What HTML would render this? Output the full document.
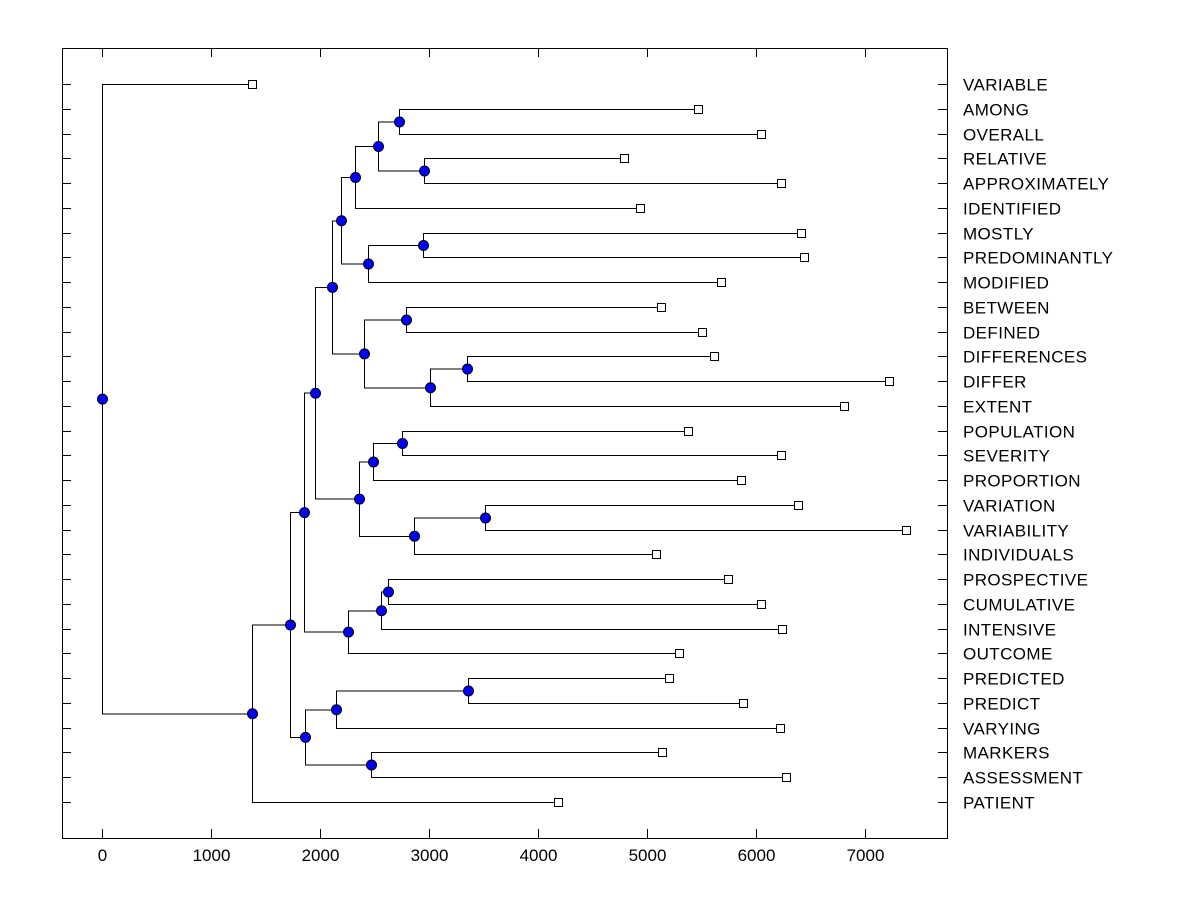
<!DOCTYPE html>
<html><head><meta charset="utf-8"><style>
body{margin:0;background:#fff;}
svg text{font-family:"Liberation Sans",Arial,sans-serif;}
</style></head><body>
<svg id="chart" width="1200" height="900" xmlns="http://www.w3.org/2000/svg" shape-rendering="crispEdges"></svg>
<script>
const leafLabels=["VARIABLE","AMONG","OVERALL","RELATIVE","APPROXIMATELY","IDENTIFIED","MOSTLY","PREDOMINANTLY","MODIFIED","BETWEEN","DEFINED","DIFFERENCES","DIFFER","EXTENT","POPULATION","SEVERITY","PROPORTION","VARIATION","VARIABILITY","INDIVIDUALS","PROSPECTIVE","CUMULATIVE","INTENSIVE","OUTCOME","PREDICTED","PREDICT","VARYING","MARKERS","ASSESSMENT","PATIENT"];
const leafValues=[1376,5468,6046,4789,6229,4936,6413,6440,5679,5128,5505,5615,7220,6807,5376,6229,5862,6385,7376,5083,5743,6046,6239,5294,5202,5881,6220,5138,6275,4183];
const mergeNames=['N','O','M','K','P','L','I','Q','S','R','J','G','V','T','W','U','H','E','Y','X','F','C','BB','Z','AA','D','B','A','ROOT'];
const mergeLeft=['AMONG','RELATIVE','N','M','MOSTLY','P','K','BETWEEN','DIFFERENCES','S','Q','I','POPULATION','V','VARIATION','W','T','G','PROSPECTIVE','Y','X','E','PREDICTED','BB','MARKERS','Z','C','B','VARIABLE'];
const mergeRight=['OVERALL','APPROXIMATELY','O','IDENTIFIED','PREDOMINANTLY','MODIFIED','L','DEFINED','DIFFER','EXTENT','R','J','SEVERITY','PROPORTION','VARIABILITY','INDIVIDUALS','U','H','CUMULATIVE','INTENSIVE','OUTCOME','F','PREDICT','VARYING','ASSESSMENT','AA','D','PATIENT','A'];
const mergeHeight=[2725,2954,2532,2321,2945,2440,2193,2789,3349,3009,2404,2110,2752,2486,3514,2862,2358,1954,2624,2560,2257,1853,3358,2147,2468,1862,1725,1376,0];
const xTicks=[0,1000,2000,3000,4000,5000,6000,7000];
</script>
<script>
const svg=document.getElementById('chart');
const NS='http://www.w3.org/2000/svg';
const X0=62,X1=947,Y0=48,Y1=838;
const xs=v=>Math.round(102+v*0.109)+0.5;
const ys=i=>Math.round(84+i*(802-84)/29)+0.5;
function mk(t,a){const e=document.createElementNS(NS,t);for(const k in a)e.setAttribute(k,a[k]);svg.appendChild(e);return e;}
const frame=mk('rect',{x:X0+0.5,y:Y0+0.5,width:X1-X0,height:Y1-Y0,fill:'none',stroke:'#000'});


xTicks.forEach(t=>{
 const x=xs(t);
 const a=mk('line',{x1:x,x2:x,y1:Y1,y2:Y1-9,stroke:'#000'});
 
 
 const b=mk('line',{x1:x,x2:x,y1:Y0,y2:Y0+9,stroke:'#000'});
 
 
 const tx=mk('text',{x:x,y:861,'text-anchor':'middle','font-size':'17'});
 tx.textContent=t;
 
 
});
const pos={};
leafLabels.forEach((n,i)=>{
 const y=ys(i);
 pos[n]={x:xs(leafValues[i]),y:y};
 const a=mk('line',{x1:X0,x2:X0+9,y1:y,y2:y,stroke:'#000'});
 
 
 const b=mk('line',{x1:X1,x2:X1-9,y1:y,y2:y,stroke:'#000'});
 
 
 const tx=mk('text',{x:963,y:y+6,'font-size':'17','letter-spacing':'0.4'});
 tx.textContent=n;
 
 
});
const circles=[];
mergeNames.forEach((nm,k)=>{
 const a=pos[mergeLeft[k]],b=pos[mergeRight[k]],x=xs(mergeHeight[k]);
 const y=(a.y+b.y)/2;
 pos[nm]={x:x,y:y};
 const p=mk('path',{d:`M${a.x},${a.y}H${x}V${b.y}H${b.x}`,fill:'none',stroke:'#000','stroke-width':1});
 
 
 circles.push({x,y});
});
leafLabels.forEach(n=>{
 const r=mk('rect',{x:pos[n].x-4,y:pos[n].y-4,width:8,height:8,fill:'#fff',stroke:'#000'});
 
 
});
circles.forEach(c=>{
 const e=mk('circle',{cx:c.x,cy:c.y,r:5,fill:'#0000ff',stroke:'#000','shape-rendering':'auto'});
 
 
});
</script>
</body></html>
